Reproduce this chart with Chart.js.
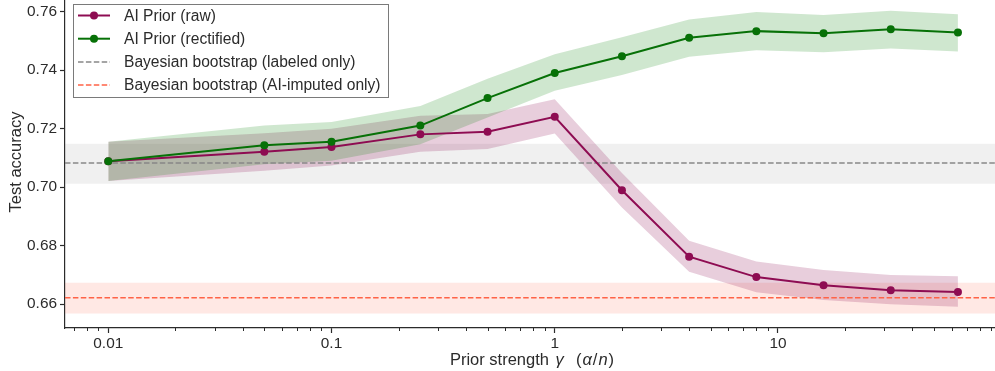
<!DOCTYPE html>
<html>
<head>
<meta charset="utf-8">
<script src="https://cdn.jsdelivr.net/npm/chart.js@4.4.1/dist/chart.umd.min.js"></script>
<style>
  html, body { margin: 0; padding: 0; background: #fff; }
  canvas { display: block; }
</style>
</head>
<body>
<canvas id="chart" width="995" height="371"></canvas>
<script>
// prior strength gamma (alpha / n)
const gamma = [0.01, 0.05, 0.1, 0.25, 0.5, 1, 2, 4, 8, 16, 32, 64];

const rawMean = [0.7088, 0.7121, 0.7137, 0.7180, 0.7189, 0.7240, 0.6989, 0.6762, 0.6692, 0.6664, 0.6647, 0.6641];
const rawLow  = [0.7021, 0.7056, 0.7074, 0.7121, 0.7130, 0.7183, 0.6930, 0.6710, 0.6640, 0.6614, 0.6599, 0.6591];
const rawHigh = [0.7155, 0.7184, 0.7199, 0.7244, 0.7250, 0.7300, 0.7048, 0.6816, 0.6745, 0.6716, 0.6699, 0.6695];

const recMean = [0.7088, 0.7143, 0.7155, 0.7210, 0.7304, 0.7390, 0.7447, 0.7510, 0.7533, 0.7526, 0.7539, 0.7528];
const recLow  = [0.7021, 0.7078, 0.7090, 0.7146, 0.7238, 0.7329, 0.7383, 0.7445, 0.7468, 0.7461, 0.7474, 0.7463];
const recHigh = [0.7155, 0.7210, 0.7222, 0.7277, 0.7370, 0.7454, 0.7512, 0.7573, 0.7598, 0.7588, 0.7603, 0.7591];

// bayesian bootstrap baselines: mean and band
const labeledOnly = [0.7082, 0.7011, 0.7148];
const aiImputedOnly = [0.6621, 0.6568, 0.6673];

const seriesLabels = [
  'AI Prior (raw)',
  'AI Prior (rectified)',
  'Bayesian bootstrap (labeled only)',
  'Bayesian bootstrap (AI-imputed only)'
];

const xTicks = [0.01, 0.1, 1, 10];
const xTickLabels = ['0.01', '0.1', '1', '10'];
const yTicks = [0.66, 0.68, 0.70, 0.72, 0.74, 0.76];
const yTickLabels = ['0.66', '0.68', '0.70', '0.72', '0.74', '0.76'];

const X_MIN = 0.0064, X_MAX = 93.8;
const Y_MIN = 0.6518, Y_MAX = 0.7636;

const RAW = '#8e0c52';
const REC = '#077107';
const GRAY = '#888888';
const RED = '#ff6347';
const FONT = '"Liberation Sans", Arial, sans-serif';
const INK = '#2b2b2b';

const pts = ys => gamma.map((g, i) => ({ x: g, y: ys[i] }));
const flat = y => [{ x: X_MIN, y: y }, { x: X_MAX, y: y }];

const lineStyle = color => ({
  borderColor: color,
  backgroundColor: color,
  borderWidth: 2,
  pointRadius: 4,
  pointBorderWidth: 0,
  pointBackgroundColor: color,
  fill: false
});
const band = (color, fill) => ({
  borderWidth: 0,
  pointRadius: 0,
  borderColor: 'rgba(0,0,0,0)',
  backgroundColor: color,
  fill: fill
});

// minor ticks, axis titles and legend box
const extras = {
  id: 'extras',
  afterDraw(chart) {
    const ctx = chart.ctx;
    const xs = chart.scales.x;
    const area = chart.chartArea;
    ctx.save();
    ctx.strokeStyle = INK;
    ctx.lineWidth = 1;
    for (let n = -3; n <= 1; n++) {
      for (let k = 2; k <= 9; k++) {
        const v = k * Math.pow(10, n);
        if (v < X_MIN || v > X_MAX) continue;
        const px = Math.round(xs.getPixelForValue(v)) + 0.5;
        ctx.beginPath();
        ctx.moveTo(px, area.bottom);
        ctx.lineTo(px, area.bottom + 3);
        ctx.stroke();
      }
    }

    // x title with italic symbols (text, italic, extra gap after)
    const parts = [
      ['Prior strength ', false, 2], ['γ', true, 3], ['  (', false, 1],
      ['α', true, 1], ['/', false, 1], ['n', true, 1], [')', false, 0]
    ];
    ctx.fillStyle = INK;
    ctx.textBaseline = 'middle';
    let total = 0;
    parts.forEach(p => {
      ctx.font = (p[1] ? 'italic ' : '') + '16.5px ' + FONT;
      total += ctx.measureText(p[0]).width + p[2];
    });
    let cx = (area.left + area.right) / 2 + 2 - total / 2;
    parts.forEach(p => {
      ctx.font = (p[1] ? 'italic ' : '') + '16.5px ' + FONT;
      ctx.textAlign = 'left';
      ctx.fillText(p[0], cx, 360);
      cx += ctx.measureText(p[0]).width + p[2];
    });

    // y title
    ctx.save();
    ctx.translate(16, 162);
    ctx.rotate(-Math.PI / 2);
    ctx.font = '16.5px ' + FONT;
    ctx.textAlign = 'center';
    ctx.fillText('Test accuracy', 0, 0);
    ctx.restore();

    // legend
    ctx.fillStyle = 'rgba(255,255,255,0.85)';
    ctx.fillRect(73, 4, 315, 93);
    ctx.strokeStyle = '#7a7a7a';
    ctx.lineWidth = 1;
    ctx.strokeRect(73.5, 4.5, 315, 93);
    const styles = [
      { color: RAW, dash: [], marker: true, width: 2 },
      { color: REC, dash: [], marker: true, width: 2 },
      { color: GRAY, dash: [5.5, 2.4], marker: false, width: 1.5 },
      { color: RED, dash: [5.5, 2.4], marker: false, width: 1.5 }
    ];
    styles.forEach((s, i) => {
      const y = 15.5 + i * 23.2;
      ctx.strokeStyle = s.color;
      ctx.lineWidth = s.width;
      ctx.setLineDash(s.dash);
      ctx.beginPath();
      ctx.moveTo(78, y);
      ctx.lineTo(110, y);
      ctx.stroke();
      ctx.setLineDash([]);
      if (s.marker) {
        ctx.fillStyle = s.color;
        ctx.beginPath();
        ctx.arc(94, y, 4, 0, Math.PI * 2);
        ctx.fill();
      }
      ctx.fillStyle = INK;
      ctx.font = '15.6px ' + FONT;
      ctx.textAlign = 'left';
      ctx.fillText(seriesLabels[i], 124, y + 1);
    });
    ctx.restore();
  }
};

new Chart(document.getElementById('chart'), {
  type: 'line',
  data: {
    datasets: [
      // lines on top (first dataset is drawn last)
      Object.assign({ label: seriesLabels[1], data: pts(recMean) }, lineStyle(REC)),
      Object.assign({ label: seriesLabels[0], data: pts(rawMean) }, lineStyle(RAW)),
      {
        label: seriesLabels[2], data: flat(labeledOnly[0]),
        borderColor: GRAY, borderWidth: 1.5, borderDash: [5.5, 2.4], pointRadius: 0, fill: false
      },
      {
        label: seriesLabels[3], data: flat(aiImputedOnly[0]),
        borderColor: RED, borderWidth: 1.5, borderDash: [5.5, 2.4], pointRadius: 0, fill: false
      },
      // bands
      Object.assign({ label: 'rec hi', data: pts(recHigh) }, band('rgba(0,0,0,0)', false)),
      Object.assign({ label: 'rec lo', data: pts(recLow) }, band('rgba(0,128,0,0.19)', '-1')),
      Object.assign({ label: 'raw hi', data: pts(rawHigh) }, band('rgba(0,0,0,0)', false)),
      Object.assign({ label: 'raw lo', data: pts(rawLow) }, band('rgba(142,12,82,0.2)', '-1')),
      Object.assign({ label: 'lab band', data: flat(labeledOnly[2]) }, band('rgba(128,128,128,0.12)', { value: labeledOnly[1] })),
      Object.assign({ label: 'ai band', data: flat(aiImputedOnly[2]) }, band('rgba(255,99,71,0.15)', { value: aiImputedOnly[1] }))
    ]
  },
  options: {
    responsive: false,
    animation: false,
    layout: { autoPadding: false, padding: { top: 1, right: 0, left: 0, bottom: 0 } },
    elements: { line: { tension: 0 } },
    plugins: { legend: { display: false }, tooltip: { enabled: false } },
    scales: {
      x: {
        type: 'logarithmic',
        min: X_MIN,
        max: X_MAX,
        afterBuildTicks: s => { s.ticks = xTicks.map(v => ({ value: v })); },
        afterFit: s => { s.height = 43; s.paddingLeft = 0; s.paddingRight = 0; },
        ticks: {
          autoSkip: false, maxRotation: 0, padding: 2,
          color: INK, font: { family: FONT, size: 15.4 },
          callback: (v, i) => xTickLabels[i]
        },
        grid: { drawOnChartArea: false, drawTicks: true, tickLength: 5, tickColor: INK, tickWidth: 1.2 },
        border: { display: true, color: INK, width: 1.2 }
      },
      y: {
        type: 'linear',
        min: Y_MIN,
        max: Y_MAX,
        afterBuildTicks: s => { s.ticks = yTicks.map(v => ({ value: v })); },
        afterFit: s => { s.width = 65; s.paddingTop = 0; s.paddingBottom = 0; },
        ticks: {
          padding: 3, color: INK, font: { family: FONT, size: 15.4 },
          callback: (v, i) => yTickLabels[i]
        },
        grid: { drawOnChartArea: false, drawTicks: true, tickLength: 5, tickColor: INK, tickWidth: 1.2 },
        border: { display: true, color: INK, width: 1.2 }
      }
    }
  },
  plugins: [extras]
});
</script>
</body>
</html>
